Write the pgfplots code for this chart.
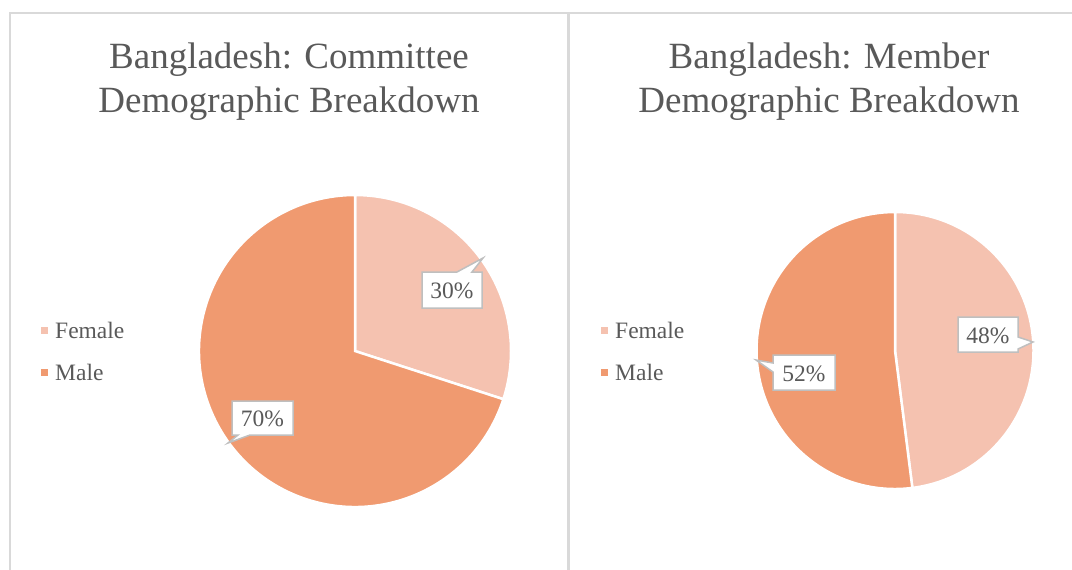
\documentclass[border=0pt]{standalone}
\usepackage{pgfplots}
\pgfplotsset{compat=1.18}
\usepackage{fontspec}
\setmainfont{Liberation Serif}

\definecolor{female}{HTML}{F5C2B0}
\definecolor{male}{HTML}{F09A70}
\definecolor{txt}{HTML}{595959}
\definecolor{frame}{HTML}{D9D9D9}
\definecolor{callout}{HTML}{BFBFBF}

\tikzset{
  ttl/.style={anchor=base, text=txt, font=\fontsize{37bp}{44bp}\selectfont},
  lbl/.style={text=txt, font=\fontsize{23.5bp}{28bp}\selectfont},
  leg/.style={lbl, anchor=base west, inner sep=0pt},
  box/.style={fill=white, draw=callout, line width=1.5bp},
}

% one pie slice: centre x, centre y, radius, from (%), to (%), colour
\newcommand\slice[6]{%
  \filldraw[fill=#6, draw=white, line width=2.5bp]
    (axis cs:#1,#2) -- ++({90-3.6*(#4)}:#3bp)
    arc[start angle={90-3.6*(#4)}, end angle={90-3.6*(#5)}, radius=#3bp] -- cycle;}

\begin{document}
\begin{tikzpicture}
\begin{axis}[
  scale only axis, width=1072bp, height=570bp,
  xmin=0, xmax=1072, ymin=0, ymax=570, y dir=reverse,
  hide axis, clip=false,
]
% panel frames
\draw[frame, line width=2.2bp] (axis cs:10,600) -- (axis cs:10,13) -- (axis cs:1080,13);
\draw[frame, line width=2.2bp] (axis cs:568.5,13) -- (axis cs:568.5,600);

% titles
\node[ttl] at (axis cs:289,68) {Bangladesh: Committee};
\node[ttl] at (axis cs:289,112) {Demographic Breakdown};
\node[ttl] at (axis cs:829,68) {Bangladesh: Member};
\node[ttl] at (axis cs:829,112) {Demographic Breakdown};

% committee: Female 30, Male 70
\slice{355}{351}{156}{0}{30}{female}
\slice{355}{351}{156}{30}{100}{male}
% member: Female 48, Male 52
\slice{895}{350.5}{138.5}{0}{48}{female}
\slice{895}{350.5}{138.5}{48}{100}{male}

% legends
\fill[female] (axis cs:40.5,326.5) rectangle (axis cs:47.5,333.5);
\fill[male]   (axis cs:40.5,368.5) rectangle (axis cs:47.5,375.5);
\node[leg] at (axis cs:55,338) {Female};
\node[leg] at (axis cs:55,380) {Male};
\fill[female] (axis cs:600.5,326.5) rectangle (axis cs:607.5,333.5);
\fill[male]   (axis cs:600.5,368.5) rectangle (axis cs:607.5,375.5);
\node[leg] at (axis cs:615,338) {Female};
\node[leg] at (axis cs:615,380) {Male};

% data label callouts
\filldraw[box]
  (axis cs:422,272) -- (axis cs:457,272) -- (axis cs:483,258) -- (axis cs:472,272)
  -- (axis cs:482,272) -- (axis cs:482,308) -- (axis cs:422,308) -- cycle;
\node[lbl] at (axis cs:452,291) {30\%};
\filldraw[box]
  (axis cs:232,401) -- (axis cs:293,401) -- (axis cs:293,435) -- (axis cs:250,435)
  -- (axis cs:228,443) -- (axis cs:238,435) -- (axis cs:232,435) -- cycle;
\node[lbl] at (axis cs:262.5,419) {70\%};
\filldraw[box]
  (axis cs:958,317) -- (axis cs:1018,317) -- (axis cs:1018,337) -- (axis cs:1033,342)
  -- (axis cs:1018,349) -- (axis cs:1018,352) -- (axis cs:958,352) -- cycle;
\node[lbl] at (axis cs:988,335.5) {48\%};
\filldraw[box]
  (axis cs:773,355) -- (axis cs:835,355) -- (axis cs:835,390) -- (axis cs:773,390)
  -- (axis cs:773,372) -- (axis cs:756,360) -- (axis cs:773,363) -- cycle;
\node[lbl] at (axis cs:804,373.5) {52\%};
\end{axis}
\pgfresetboundingbox
\path (0,0) rectangle (1072bp,570bp);
\end{tikzpicture}
\end{document}
